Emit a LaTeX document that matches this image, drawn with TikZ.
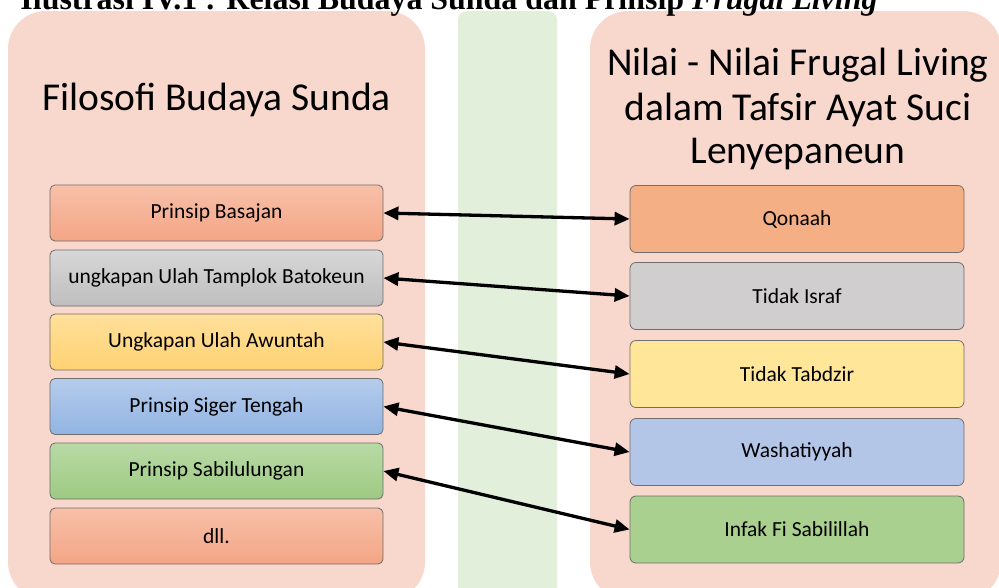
\documentclass[tikz,border=0pt]{standalone}
\usepackage{fontspec}
\setmainfont{Carlito}
\newfontfamily\titlefont{Liberation Serif}
\usetikzlibrary{arrows.meta}
\definecolor{panelc}{RGB}{248,215,204}
\definecolor{stripec}{RGB}{226,239,218}
\definecolor{edgec}{RGB}{110,110,110}
\definecolor{salT}{RGB}{247,192,168}
\definecolor{salB}{RGB}{244,165,134}
\definecolor{grayT}{RGB}{215,215,215}
\definecolor{grayB}{RGB}{190,190,190}
\definecolor{yelT}{RGB}{255,224,155}
\definecolor{yelB}{RGB}{255,210,115}
\definecolor{bluT}{RGB}{182,204,236}
\definecolor{bluB}{RGB}{145,180,226}
\definecolor{grnT}{RGB}{184,218,166}
\definecolor{grnB}{RGB}{158,202,130}
\definecolor{rQ}{RGB}{244,176,132}
\definecolor{rI}{RGB}{208,206,206}
\definecolor{rT}{RGB}{255,230,153}
\definecolor{rW}{RGB}{180,198,231}
\definecolor{rF}{RGB}{169,208,142}
\begin{document}
\begin{tikzpicture}[x=1pt,y=-1pt,
  panel/.style={fill=panelc, draw=none, rounded corners=38pt},
  lbox/.style={draw=edgec, line width=0.8pt, rounded corners=5pt,
    minimum width=333pt, minimum height=56pt, inner sep=0pt,
    font=\fontsize{21.5}{24}\selectfont},
  rbox/.style={draw=edgec, line width=0.8pt, rounded corners=6pt,
    minimum width=334pt, minimum height=67pt, inner sep=0pt,
    font=\fontsize{21.5}{24}\selectfont},
  grad/.style 2 args={top color=#1, bottom color=#2},
  link/.style={line width=3.3pt,
    {Triangle[length=15pt,width=13pt]}-{Triangle[length=15pt,width=13pt]}},
  head/.style={font=\fontsize{39.5}{44}\selectfont, inner sep=0pt, anchor=base}
]
\useasboundingbox (0,0) rectangle (999,587);
\clip (0,0) rectangle (999,587);
% panels
\path[panel] (8,11) rectangle (425,600);
\path[fill=stripec, rounded corners=9pt] (458,11) rectangle (557,610);
\path[panel] (590,11) rectangle (1001,600);
% title
\node[anchor=base, inner sep=0pt] (title) at (449,9)
  {\resizebox{857pt}{!}{\titlefont\bfseries Ilustrasi IV.1 : Relasi Budaya Sunda dan Prinsip \textit{Frugal Living}}};
% headers
\node[head] (lhead) at (216.5,110) {Filosofi Budaya Sunda};
\node[head] (rh1) at (798,75) {Nilai - Nilai Frugal Living};
\node[head] (rh2) at (798,120) {dalam Tafsir Ayat Suci};
\node[head] (rh3) at (798,163) {Lenyepaneun};
% left boxes
\node[lbox, grad={salT}{salB}]   (L1) at (216.5,213) {Prinsip Basajan};
\node[lbox, grad={grayT}{grayB}] (L2) at (216.5,278) {ungkapan Ulah Tamplok Batokeun};
\node[lbox, grad={yelT}{yelB}]   (L3) at (216.5,342) {Ungkapan Ulah Awuntah};
\node[lbox, grad={bluT}{bluB}]   (L4) at (216.5,406.5) {Prinsip Siger Tengah};
\node[lbox, grad={grnT}{grnB}]   (L5) at (216.5,471) {Prinsip Sabilulungan};
\node[lbox, grad={salT}{salB}]   (L6) at (216.5,536) {dll.};
% right boxes
\node[rbox, fill=rQ] (R1) at (797,219) {Qonaah};
\node[rbox, fill=rI] (R2) at (797,296) {Tidak Israf};
\node[rbox, fill=rT] (R3) at (797,374) {Tidak Tabdzir};
\node[rbox, fill=rW] (R4) at (797,452) {Washatiyyah};
\node[rbox, fill=rF] (R5) at (797,529.5) {Infak Fi Sabilillah};
% links
\draw[link] (L1.east) -- (R1.west);
\draw[link] (L2.east) -- (R2.west);
\draw[link] (L3.east) -- (R3.west);
\draw[link] (L4.east) -- (R4.west);
\draw[link] (L5.east) -- (R5.west);
\end{tikzpicture}
\end{document}
